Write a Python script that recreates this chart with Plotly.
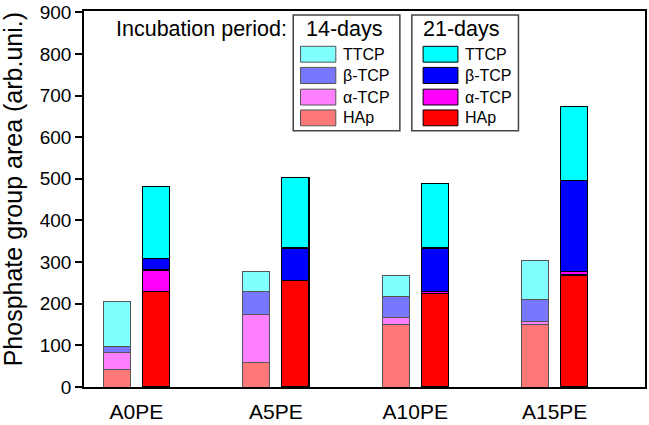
import plotly.graph_objects as go

categories = ["A0PE", "A5PE", "A10PE", "A15PE"]
phases = ["HAp", "α-TCP", "β-TCP", "TTCP"]

# 14-days incubation (stack from bottom: HAp, α-TCP, β-TCP, TTCP)
d14_HAp = [43, 58, 151, 150]
d14_aTCP = [40, 117, 16, 8]
d14_bTCP = [14, 54, 51, 51]
d14_TTCP = [109, 48, 49, 95]

# 21-days incubation
d21_HAp = [229, 256, 224, 269]
d21_aTCP = [52, 0, 6, 8]
d21_bTCP = [28, 78, 104, 219]
d21_TTCP = [172, 169, 154, 178]

colors14 = ["#FF7878", "#FF80FF", "#7878FF", "#80FFFF"]
colors21 = ["#FF0000", "#FF00FF", "#0000FF", "#00FFFF"]

FONT = "Liberation Sans, Arial, sans-serif"
W, H = 649, 425
L, R, T, B = 84, 2, 11, 34

fig = go.Figure()

pos = list(range(len(categories)))
off = 0.14
bw = 0.196

series14 = [d14_HAp, d14_aTCP, d14_bTCP, d14_TTCP]
series21 = [d21_HAp, d21_aTCP, d21_bTCP, d21_TTCP]

for name, vals, col in zip(phases, series14, colors14):
    fig.add_trace(go.Bar(
        x=[p - off for p in pos], y=vals, width=bw, name=name + " (14-days)",
        marker=dict(color=col, line=dict(color="#555555", width=1)),
        showlegend=False))
for name, vals, col in zip(phases, series21, colors21):
    fig.add_trace(go.Bar(
        x=[p + off for p in pos], y=vals, width=bw, name=name + " (21-days)",
        marker=dict(color=col, line=dict(color="#000000", width=1.2)),
        showlegend=False))

pw = W - L - R
ph = H - T - B


def px(x):
    return (x - L) / pw


def py(y):
    return (H - B - y) / ph


shapes = []
annotations = []

# Legend boxes
for (x0, x1) in [(294, 401), (413, 520)]:
    shapes.append(dict(type="rect", xref="paper", yref="paper",
                       x0=px(x0), x1=px(x1), y0=py(132), y1=py(15),
                       line=dict(color="#444444", width=1.5), fillcolor="white"))

rows = [(111, 127), (90, 106), (68, 84.3), (46.7, 62.7)]  # HAp, α, β, TTCP
for (sx0, sx1, tx, cols, lc) in [(301.3, 336.7, 341.5, colors14, "#555555"),
                                  (424.3, 459.3, 464, colors21, "#000000")]:
    for (r0, r1), col, name in zip(rows, cols, phases):
        shapes.append(dict(type="rect", xref="paper", yref="paper",
                           x0=px(sx0), x1=px(sx1), y0=py(r1), y1=py(r0),
                           line=dict(color=lc, width=1), fillcolor=col))
        annotations.append(dict(xref="paper", yref="paper", x=px(tx), y=py((r0 + r1) / 2),
                                text=name, showarrow=False, xanchor="left", yanchor="middle",
                                font=dict(family=FONT, size=16, color="black")))

annotations.append(dict(xref="paper", yref="paper", x=px(345), y=py(29), text="14-days",
                        showarrow=False, xanchor="center", yanchor="middle",
                        font=dict(family=FONT, size=21.5, color="black")))
annotations.append(dict(xref="paper", yref="paper", x=px(463), y=py(29), text="21-days",
                        showarrow=False, xanchor="center", yanchor="middle",
                        font=dict(family=FONT, size=21.5, color="black")))
annotations.append(dict(xref="paper", yref="paper", x=px(289.5), y=py(29), text="Incubation period:",
                        showarrow=False, xanchor="right", yanchor="middle",
                        font=dict(family=FONT, size=21.5, color="black")))
# y-axis title
annotations.append(dict(xref="paper", yref="paper", x=px(12.5), y=py(191.5),
                        text="Phosphate group area (arb.uni.)", textangle=-90,
                        showarrow=False, xanchor="center", yanchor="middle",
                        font=dict(family=FONT, size=25, color="black")))

fig.update_layout(
    width=W, height=H,
    margin=dict(l=L, r=R, t=T, b=B),
    barmode="stack",
    plot_bgcolor="white", paper_bgcolor="white",
    font=dict(family=FONT, color="black"),
    shapes=shapes, annotations=annotations,
    xaxis=dict(range=[-0.376, 3.648], tickvals=pos, ticktext=categories,
               tickfont=dict(size=21), showgrid=False, zeroline=False,
               showline=True, linecolor="black", linewidth=1.5, mirror=True, ticks="",
               ticklabelstandoff=5),
    yaxis=dict(range=[0, 903], dtick=100, tickfont=dict(size=19), showgrid=False,
               zeroline=False, showline=True, linecolor="black", linewidth=1.5, mirror=True,
               ticks="outside", ticklen=7, tickwidth=1.5, tickcolor="black"),
)

fig.write_html("out.html", config={"displayModeBar": False},
               post_script="document.body.style.margin='0';document.body.style.overflow='hidden';")
